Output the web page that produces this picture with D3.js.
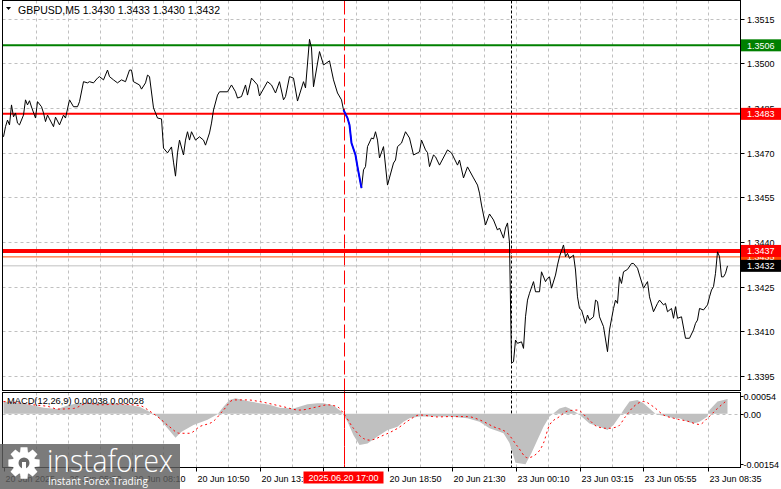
<!DOCTYPE html>
<html><head><meta charset="utf-8">
<script src="https://cdn.jsdelivr.net/npm/d3@7"></script>
<style>body{margin:0;background:#fff}svg{display:block}</style>
</head><body><svg id="c" width="781" height="489"></svg>
<script>
// ---------- DATA ----------
const symbolTitle = "GBPUSD,M5  1.3430 1.3433 1.3430 1.3432";
const macdTitle = "MACD(12,26,9) 0.00038 0.00028";

const priceBar = [0,1,2,3,4,5,6,7,8,10,11,12,13,14,16,17,19,20,21,22,23,25,26,28,30,31,33,35,37,38,40,42,43,45,47,48,50,52,53,55,57,59,61,63,64,65,68,69,71,72,73,75,76,77,79,80,82,84,85,86,87,88,90,91,92,93,94,96,98,100,101,103,104,105,107,108,112,114,116,117,119,121,122,124,127,128,132,134,136,138,140,141,143,145,147,150,151,153,154,155,158,160,163,165,167,169,170,172,173,174,176,177,179,180,181,182,184,185,186,187,188,190,192,195,196,197,199,201,203,205,207,208,209,211,212,213,215,216,218,222,224,227,228,230,232,235,237,238,239,241,243,245,247,248,250,251,252,253,254,255,256,257,259,260,261,262,263,265,266,268,269,271,272,273,274,276,277,278,280,281,282,283,285,286,287,288,289,291,292,293,295,296,297,298,300,302,303,305,306,307,308,309,310,312,314,315,317,318,320,322,323,325,327,328,330,331,332,334,335,336,337,339,341,343,345,346,347,348,350,352,353,354,355,356,357,358,359,360,361,362];
const priceClose = [1.34753,1.34787,1.34809,1.34793,1.34860,1.34820,1.34833,1.34799,1.34793,1.34826,1.34877,1.34860,1.34874,1.34853,1.34816,1.34871,1.34854,1.34833,1.34804,1.34826,1.34813,1.34787,1.34819,1.34793,1.34826,1.34816,1.34877,1.34854,1.34854,1.34871,1.34938,1.34934,1.34938,1.34934,1.34950,1.34955,1.34944,1.34977,1.34955,1.34944,1.34934,1.34944,1.34938,1.34977,1.34977,1.34938,1.34927,1.34913,1.34934,1.34960,1.34955,1.34850,1.34833,1.34816,1.34813,1.34715,1.34699,1.34719,1.34668,1.34621,1.34699,1.34742,1.34692,1.34742,1.34770,1.34742,1.34770,1.34742,1.34753,1.34742,1.34725,1.34766,1.34799,1.34843,1.34893,1.34904,1.34904,1.34927,1.34904,1.34883,1.34888,1.34927,1.34893,1.34950,1.34927,1.34890,1.34938,1.34927,1.34900,1.34938,1.34877,1.34888,1.34955,1.34950,1.34873,1.34938,1.34917,1.35080,1.35051,1.34921,1.35039,1.34994,1.35008,1.34944,1.34900,1.34877,1.34843,1.34816,1.34793,1.34732,1.34692,1.34652,1.34581,1.34642,1.34653,1.34720,1.34749,1.34746,1.34770,1.34742,1.34682,1.34720,1.34591,1.34665,1.34675,1.34720,1.34732,1.34770,1.34749,1.34692,1.34699,1.34703,1.34742,1.34709,1.34700,1.34653,1.34692,1.34686,1.34658,1.34709,1.34699,1.34658,1.34675,1.34615,1.34652,1.34615,1.34591,1.34564,1.34524,1.34457,1.34494,1.34474,1.34440,1.34447,1.34413,1.34447,1.34464,1.34397,1.33994,1.33998,1.34071,1.34060,1.34065,1.34043,1.34149,1.34205,1.34228,1.34267,1.34233,1.34233,1.34300,1.34267,1.34278,1.34283,1.34245,1.34289,1.34323,1.34351,1.34390,1.34351,1.34362,1.34345,1.34356,1.34306,1.34216,1.34177,1.34172,1.34127,1.34155,1.34138,1.34149,1.34205,1.34200,1.34149,1.34116,1.34032,1.34105,1.34177,1.34205,1.34194,1.34283,1.34261,1.34300,1.34308,1.34328,1.34328,1.34312,1.34289,1.34245,1.34267,1.34216,1.34166,1.34194,1.34205,1.34189,1.34194,1.34166,1.34177,1.34144,1.34183,1.34144,1.34149,1.34077,1.34077,1.34105,1.34127,1.34138,1.34177,1.34172,1.34189,1.34216,1.34239,1.34250,1.34295,1.34367,1.34351,1.34283,1.34283,1.34295,1.34320];

const trendBar = [170,172,173,174,176,177,179];
const trendClose = [1.34843,1.34816,1.34793,1.34732,1.34692,1.34652,1.34581];

const histBar = [0,8,15,20,27,32,38,45,53,62,68,73,77,82,86,89,95,102,107,110,113,116,122,128,133,138,145,152,157,160,165,169,172,175,178,182,187,192,197,200,203,208,217,223,232,238,243,248,250,253,256,261,264,267,270,273,276,278,281,283,287,290,293,298,302,305,308,310,313,317,320,323,326,328,332,335,338,342,345,348,352,353,357,362];
const histVal = [0.00037,0.00033,0.00025,0.00018,0.00014,0.00025,0.00033,0.00033,0.00033,0.00027,0.00021,0.00006,-0.00009,-0.00045,-0.00074,-0.00055,-0.00035,-0.00019,-0.00002,0.00021,0.00042,0.00047,0.00039,0.00032,0.00027,0.00018,0.00016,0.00029,0.00032,0.00032,0.00025,0.00006,-0.00025,-0.00066,-0.00096,-0.00091,-0.00070,-0.00050,-0.00040,-0.00025,-0.00014,-0.00009,-0.00009,-0.00009,-0.00014,-0.00025,-0.00045,-0.00055,-0.00060,-0.00090,-0.00150,-0.00155,-0.00120,-0.00080,-0.00040,-0.00009,0.00006,0.00016,0.00021,0.00016,0.00001,-0.00014,-0.00030,-0.00040,-0.00050,-0.00035,-0.00009,0.00011,0.00037,0.00042,0.00032,0.00016,0.00000,-0.00004,-0.00009,-0.00014,-0.00014,-0.00025,-0.00030,-0.00025,-0.00009,0.00011,0.00037,0.00045];

const sigBar = [0,8,15,23,27,35,42,48,57,68,73,78,83,88,93,98,105,110,115,122,128,140,148,157,162,167,170,175,180,183,190,197,203,208,217,223,232,238,245,252,257,262,267,270,273,278,282,287,292,297,302,307,311,315,320,325,330,335,342,348,352,357,362];
const sigVal = [0.00037,0.00033,0.00027,0.00021,0.00014,0.00016,0.00032,0.00027,0.00029,0.00025,0.00008,-0.00014,-0.00040,-0.00060,-0.00060,-0.00040,-0.00023,0.00011,0.00042,0.00042,0.00037,0.00021,0.00011,0.00021,0.00027,0.00021,0.00001,-0.00045,-0.00076,-0.00081,-0.00066,-0.00045,-0.00019,-0.00004,-0.00010,-0.00009,-0.00009,-0.00019,-0.00040,-0.00060,-0.00100,-0.00135,-0.00120,-0.00090,-0.00035,-0.00009,0.00008,0.00011,-0.00014,-0.00040,-0.00045,-0.00040,-0.00009,0.00021,0.00037,0.00021,-0.00004,-0.00014,-0.00023,-0.00033,-0.00014,0.00016,0.00042];

const priceTicks = [1.3515,1.3500,1.3485,1.3470,1.3455,1.3440,1.3425,1.3410,1.3395];
const macdTicks = [0.00054,0.00,-0.00154];
const macdTickLabels = ["0.00054","0.00","-0.00154"];
const timeTickBars = [0,32,64,96,128,160,192,224,256,288,320,352];
// label at bar 160 is hidden under the red time marker in the reference
const timeTickLabels = ["20 Jun 2025","20 Jun 05:30","20 Jun 08:10","20 Jun 10:50","20 Jun 13:30","","20 Jun 18:50","20 Jun 21:30","23 Jun 00:10","23 Jun 03:15","23 Jun 05:55","23 Jun 08:35"];
const levelNames = ["resistance","entry","support","stop","bid"];
const levelValues = [1.3506,1.3483,1.3437,1.3435,1.3432];
const markerBar = 170, markerLabel = "2025.06.20 17:00";
const sessionBar = 253.5;
const gridStepBars = 16, totalBars = 368;

// ---------- STYLE ----------
const levelStyle = {
  resistance:{stroke:"#008000",w:2,box:"#008000",txt:"#fff"},
  entry:{stroke:"#ff0000",w:2,box:"#ff0000",txt:"#fff"},
  stop:{stroke:"#ff4500",w:1,box:"#ff4500",txt:"#fff"},
  support:{stroke:"#ff0000",w:4,box:"#ff0000",txt:"#fff"},
  bid:{stroke:"#c0c0c0",w:1,box:"#000000",txt:"#fff"}
};
const FONT = "'Liberation Sans', Arial, sans-serif";
const L=2.5, R=740.5, T=0.5, B1=390.5, T2=392.5, B2=467.5;

const svg = d3.select("#c");
const x = d3.scaleLinear().domain([0,totalBars]).range([3.5,739.5]);
const yP = d3.scaleLinear().domain([1.3395,1.3515]).range([376.1,18.5]);
const yM = d3.scaleLinear().domain([-0.00154,0.00054]).range([464,396]);

const defs = svg.append("defs");
defs.append("clipPath").attr("id","cpMain").append("rect").attr("x",L).attr("y",T).attr("width",R-L).attr("height",B1-T);
defs.append("clipPath").attr("id","cpMacd").append("rect").attr("x",L).attr("y",T2).attr("width",R-L).attr("height",B2-T2);

// grid
const gridBars = d3.range(gridStepBars, totalBars, gridStepBars);
const g = svg.append("g");
gridBars.forEach(b=>{
  const xx = Math.round(x(b))+0.5;
  [[T,B1],[T2,B2]].forEach(([a,c])=>{
    g.append("line").attr("x1",xx).attr("x2",xx).attr("y1",a).attr("y2",c)
     .attr("stroke","#c0c0c0").attr("stroke-dasharray","3,3");
  });
});
priceTicks.forEach(p=>{
  const yy = Math.round(yP(p))+0.5;
  g.append("line").attr("x1",L).attr("x2",R).attr("y1",yy).attr("y2",yy)
   .attr("stroke","#c0c0c0").attr("stroke-dasharray","3,3");
});
{
  const yy = Math.round(yM(0))+0.5;
  g.append("line").attr("x1",L).attr("x2",R+6).attr("y1",yy).attr("y2",yy)
   .attr("stroke","#c0c0c0").attr("stroke-dasharray","3,3");
}

// vertical markers
svg.append("line").attr("x1",Math.round(x(markerBar))+0.5).attr("x2",Math.round(x(markerBar))+0.5)
  .attr("y1",T).attr("y2",B2).attr("stroke","#ff0000").attr("stroke-dasharray","14,4");
svg.append("line").attr("x1",Math.round(x(sessionBar))+0.5).attr("x2",Math.round(x(sessionBar))+0.5)
  .attr("y1",T).attr("y2",B2).attr("stroke","#000").attr("stroke-dasharray","3,2");

// level lines
const mainG = svg.append("g").attr("clip-path","url(#cpMain)");
levelValues.forEach((v,i)=>{
  const st = levelStyle[levelNames[i]];
  mainG.append("line").attr("x1",L).attr("x2",R).attr("y1",yP(v)).attr("y2",yP(v))
    .attr("stroke",st.stroke).attr("stroke-width",st.w);
});

// price line
const pts = priceBar.map((b,i)=>[b,priceClose[i]]);
const line = d3.line().x(d=>x(d[0])).y(d=>yP(d[1]));
mainG.append("path").attr("d",line(pts)).attr("fill","none").attr("stroke","#000").attr("stroke-width",1);
const tpts = trendBar.map((b,i)=>[b,trendClose[i]]);
mainG.append("path").attr("d",line(tpts)).attr("fill","none").attr("stroke","#0000ff").attr("stroke-width",2);

// MACD
const macdG = svg.append("g").attr("clip-path","url(#cpMacd)");
const hpts = histBar.map((b,i)=>[b,histVal[i]]);
macdG.append("path").attr("d", d3.area().x(d=>x(d[0])).y0(yM(0)).y1(d=>yM(d[1]))(hpts))
  .attr("fill","#c0c0c0");
const spts = sigBar.map((b,i)=>[b,sigVal[i]]);
macdG.append("path").attr("d", d3.line().x(d=>x(d[0])).y(d=>yM(d[1])).curve(d3.curveMonotoneX)(spts))
  .attr("fill","none").attr("stroke","#ff0000").attr("stroke-width",1).attr("stroke-dasharray","2,3");
macdG.append("line").attr("x1",Math.round(x(markerBar))+0.5).attr("x2",Math.round(x(markerBar))+0.5)
  .attr("y1",T2).attr("y2",B2).attr("stroke","#ff0000").attr("stroke-dasharray","14,4");

// frames
svg.append("rect").attr("x",L).attr("y",T).attr("width",R-L).attr("height",B1-T).attr("fill","none").attr("stroke","#000");
svg.append("rect").attr("x",L).attr("y",T2).attr("width",R-L).attr("height",B2-T2).attr("fill","none").attr("stroke","#000");

// right price axis
const ax = svg.append("g").attr("font-family",FONT).attr("font-size","9px").attr("fill","#000");
priceTicks.forEach(p=>{
  const yy = Math.round(yP(p))+0.5;
  ax.append("line").attr("x1",R).attr("x2",R+4).attr("y1",yy).attr("y2",yy).attr("stroke","#000");
  ax.append("text").attr("x",747).attr("y",yy+3.5).text(d3.format(".4f")(p));
});
macdTicks.forEach((v,i)=>{
  const yy = Math.round(yM(v))+0.5;
  ax.append("line").attr("x1",R).attr("x2",R+3).attr("y1",yy).attr("y2",yy).attr("stroke","#000");
  ax.append("text").attr("x",743.5).attr("y",yy+3.5).text(macdTickLabels[i]);
});
[0,1,3,2,4].forEach(i=>{
  const st = levelStyle[levelNames[i]], yy = yP(levelValues[i]);
  ax.append("rect").attr("x",R+0.5).attr("y",yy-6).attr("width",40).attr("height",12).attr("fill",st.box);
  ax.append("text").attr("x",747).attr("y",yy+3.5).attr("fill",st.txt).text(d3.format(".4f")(levelValues[i]));
});

// bottom time axis
timeTickBars.forEach((b,i)=>{
  const xx = Math.round(x(b))+0.5;
  ax.append("line").attr("x1",xx).attr("x2",xx).attr("y1",B2).attr("y2",B2+4).attr("stroke","#000");
  if (timeTickLabels[i]) ax.append("text").attr("x",xx+1).attr("y",481.5).text(timeTickLabels[i]);
});
{
  const xx = x(markerBar);
  ax.append("rect").attr("x",xx-40).attr("y",471.5).attr("width",80).attr("height",12).attr("fill","#ff0000");
  ax.append("text").attr("x",xx).attr("y",481).attr("text-anchor","middle").attr("fill","#fff").text(markerLabel);
}

// titles
svg.append("path").attr("d","M6,7 L11,7 L8.5,10 Z").attr("fill","#000");
svg.append("text").attr("x",18).attr("y",14).attr("font-family",FONT).attr("font-size","10.5px").text(symbolTitle);
svg.append("text").attr("x",7).attr("y",404).attr("font-family",FONT).attr("font-size","9.3px").text(macdTitle);

// watermark logo
const logo = svg.append("g");
logo.append("rect").attr("x",0).attr("y",444).attr("width",180).attr("height",45).attr("fill","#5e5e5e").attr("opacity",0.82);
{
  const cx=24, cy=463, rO=16, rI=11.5, n=8;
  let d="";
  for(let k=0;k<n;k++){
    const a0=(k/n)*2*Math.PI, w=Math.PI/n*0.55;
    d += (k===0?"M":"L")+(cx+rI*Math.cos(a0-w*1.6))+","+(cy+rI*Math.sin(a0-w*1.6));
    d += "L"+(cx+rO*Math.cos(a0-w))+","+(cy+rO*Math.sin(a0-w));
    d += "L"+(cx+rO*Math.cos(a0+w))+","+(cy+rO*Math.sin(a0+w));
    d += "L"+(cx+rI*Math.cos(a0+w*1.6))+","+(cy+rI*Math.sin(a0+w*1.6));
  }
  d+="Z";
  logo.append("path").attr("d",d).attr("fill","#fff");
  logo.append("circle").attr("cx",cx).attr("cy",cy).attr("r",5.5).attr("fill","#6a6a6a");
  logo.append("rect").attr("x",cx-2).attr("y",cy-1).attr("width",4).attr("height",13).attr("fill","#fff");
}
logo.append("text").attr("x",47).attr("y",472).attr("font-family","'Open Sans', sans-serif").attr("font-weight",300)
  .attr("font-size","31px").attr("fill","#fff").attr("textLength",126).attr("lengthAdjust","spacingAndGlyphs").text("instaforex");
logo.append("text").attr("x",48).attr("y",485).attr("font-family","'Open Sans', sans-serif")
  .attr("font-size","11.5px").attr("fill","#fff").attr("textLength",100).attr("lengthAdjust","spacingAndGlyphs").text("Instant Forex Trading");
</script></body></html>
